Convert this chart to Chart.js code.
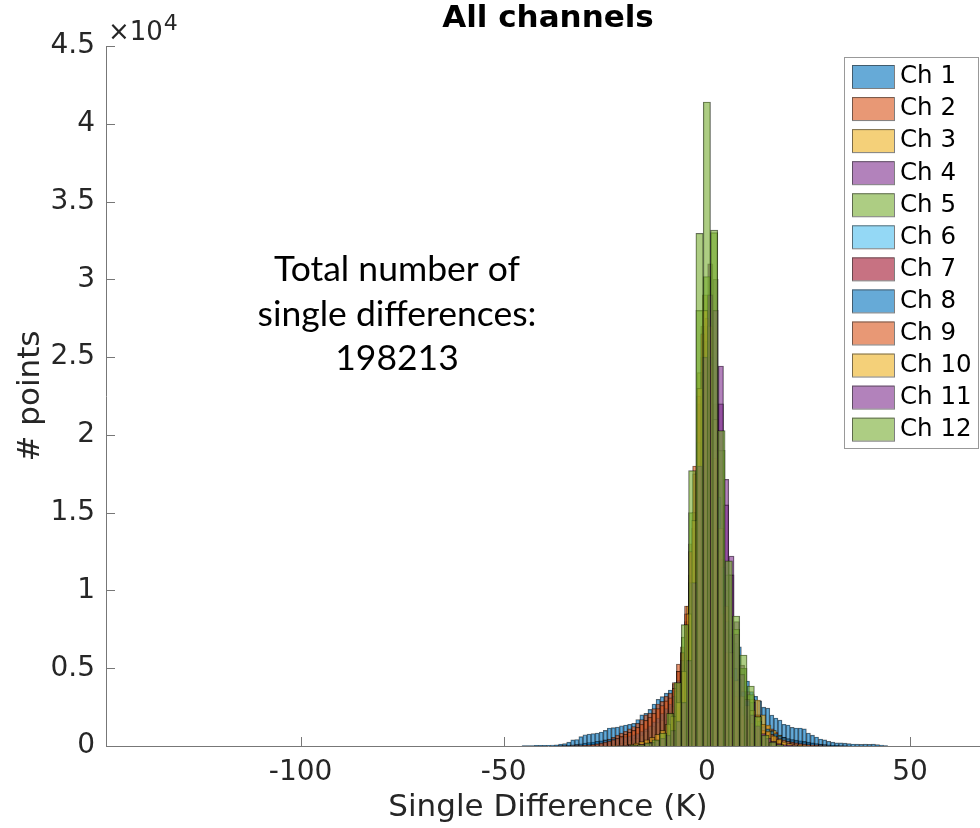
<!DOCTYPE html>
<html>
<head>
<meta charset="utf-8">
<title>All channels</title>
<script src="https://cdn.jsdelivr.net/npm/chart.js@4.4.1/dist/chart.umd.min.js"></script>
<style>
  html, body { margin: 0; padding: 0; background: #fff; overflow: hidden; }
  #wrap { width: 1000px; height: 828px; }
</style>
</head>
<body>
<div id="wrap"><canvas id="myChartHist" width="1000" height="828"></canvas></div>
<script>
// bin centres (K), one list per bin width used by the channels
const binsFine = Array.from({ length: 91 }, (_, i) => -45 + i);                                   // 1.0 K
const binsMid = Array.from({ length: 41 }, (_, i) => Math.round((-26.45 + 1.3 * i) * 100) / 100);  // 1.3 K
const binsWide = Array.from({ length: 21 }, (_, i) => Math.round((-18 + 1.8 * i) * 100) / 100);    // 1.8 K

// counts per bin for each channel
const ch1 = [
  20, 30, 30, 40, 40, 50, 50, 60, 80, 130,
  150, 250, 390, 420, 600, 720, 770, 800, 830, 900,
  1000, 1160, 1180, 1220, 1300, 1350, 1400, 1460, 1700, 2000,
  2100, 2350, 2700, 3000, 3170, 3400, 3600, 4000, 4800, 6000,
  8000, 11000, 15000, 20000, 25000, 27000, 26000, 22000, 17000, 12000,
  9000, 7200, 6600, 6380, 5000, 4180, 3500, 3200, 2900, 2500,
  2440, 1990, 1800, 1670, 1400, 1350, 1200, 1160, 1160, 1100,
  830, 700, 580, 450, 390, 300, 250, 200, 200, 180,
  150, 130, 120, 100, 120, 100, 120, 90, 60, 30,
  0];
const ch2 = [
  0, 0, 0, 0, 0, 0, 0, 0, 0, 10,
  20, 30, 40, 50, 70, 80, 100, 150, 200, 300,
  390, 450, 550, 700, 830, 950, 1100, 1250, 1460, 1700,
  2000, 2120, 2400, 2700, 2870, 3200, 3400, 4070, 5270, 6380,
  9000, 13000, 18000, 23000, 27000, 28000, 25000, 19000, 13000, 9000,
  6500, 4800, 3500, 2800, 2300, 2000, 1700, 1500, 1400, 1350,
  1300, 1100, 900, 700, 550, 450, 400, 330, 280, 230,
  200, 160, 130, 100, 80, 50, 30, 20, 10, 0,
  0, 0, 0, 0, 0, 0, 0, 0, 0, 0,
  0];
const ch3 = [
  10, 20, 50, 90, 150, 250, 350, 500, 700, 950,
  1280, 1500, 1670, 2200, 2530, 3400, 5500, 9000, 15000, 24000,
  29000, 28000, 22000, 15000, 10000, 7000, 5000, 3800, 3200, 3000,
  2960, 2000, 1350, 1000, 700, 450, 300, 180, 100, 50,
  0];
const ch4 = [
  0, 0, 0, 10, 20, 40, 70, 110, 160, 220,
  300, 450, 650, 900, 1300, 2000, 3500, 6500, 12000, 20000,
  27000, 31000, 30000, 24430, 17150, 12210, 8000, 5200, 3500, 2800,
  1900, 1200, 700, 400, 220, 110, 50, 20, 10, 0,
  0];
const ch5 = [
  30, 60, 150, 350, 700, 1700, 3500, 7000, 15000, 28000,
  30170, 33000, 19000, 11000, 7500, 5000, 3300, 1600, 600, 200,
  60];
const ch6 = [
  0, 0, 0, 0, 0, 0, 0, 0, 0, 0,
  100, 150, 250, 400, 700, 1200, 2400, 5000, 10000, 18000,
  24000, 22000, 15000, 9000, 5000, 2800, 1600, 900, 500, 300,
  180, 100, 60, 30, 10, 0, 0, 0, 0, 0,
  0];
const ch7 = [
  0, 0, 0, 0, 10, 20, 40, 70, 110, 150,
  200, 300, 600, 1000, 1500, 2500, 4500, 8000, 14000, 22000,
  26000, 25000, 19000, 12000, 7500, 5000, 3500, 2500, 1900, 1300,
  800, 450, 250, 120, 60, 30, 10, 0, 0, 0,
  0];
const ch8 = [
  0, 0, 0, 0, 0, 0, 0, 0, 10, 20,
  30, 50, 70, 100, 140, 180, 220, 260, 300, 340,
  380, 420, 460, 500, 550, 600, 650, 720, 800, 950,
  1100, 1300, 1550, 1800, 2100, 2400, 2700, 3200, 4200, 5500,
  7800, 10500, 14500, 19500, 24000, 26000, 25000, 21000, 16000, 11500,
  8000, 6000, 5000, 4300, 3500, 2900, 2300, 1900, 1600, 1300,
  1100, 950, 800, 650, 550, 480, 420, 380, 340, 300,
  250, 200, 160, 120, 90, 70, 50, 40, 30, 20,
  10, 0, 0, 0, 0, 0, 0, 0, 0, 0,
  0];
const ch9 = [
  0, 0, 0, 0, 0, 0, 0, 0, 0, 0,
  0, 0, 10, 20, 30, 40, 60, 90, 130, 180,
  250, 320, 400, 500, 620, 750, 880, 1000, 1200, 1400,
  1650, 1850, 2100, 2400, 2600, 2900, 3100, 3700, 4800, 6000,
  8500, 12500, 17500, 22500, 26500, 27500, 24500, 18500, 12500, 8500,
  6000, 4400, 3200, 2500, 2000, 1700, 1450, 1250, 1100, 1000,
  900, 750, 600, 480, 380, 300, 250, 200, 160, 120,
  90, 60, 40, 20, 10, 0, 0, 0, 0, 0,
  0, 0, 0, 0, 0, 0, 0, 0, 0, 0,
  0];
const ch10 = [
  0, 0, 0, 10, 30, 60, 110, 180, 280, 400,
  550, 750, 1000, 1400, 1900, 2800, 4800, 8500, 14500, 23000,
  28000, 27000, 21000, 14000, 9000, 6000, 4200, 3200, 2600, 2300,
  2000, 1400, 950, 650, 420, 260, 150, 80, 40, 10,
  0];
const ch11 = [
  0, 0, 0, 0, 10, 20, 40, 70, 110, 160,
  230, 350, 500, 700, 1000, 1600, 2800, 5500, 10500, 18000,
  25000, 29000, 28000, 22000, 15500, 11000, 7200, 4600, 3000, 2000,
  1300, 800, 500, 300, 160, 80, 40, 20, 0, 0,
  0];
const ch12 = [
  40, 80, 200, 400, 830, 2100, 4070, 7800, 17700, 32960,
  41400, 33170, 20270, 11900, 8360, 5850, 3860, 1890, 700, 250,
  90];

const channelNames = ['Ch 1', 'Ch 2', 'Ch 3', 'Ch 4', 'Ch 5', 'Ch 6', 'Ch 7', 'Ch 8', 'Ch 9', 'Ch 10', 'Ch 11', 'Ch 12'];
const channelCounts = [ch1, ch2, ch3, ch4, ch5, ch6, ch7, ch8, ch9, ch10, ch11, ch12];
const channelBins = [binsFine, binsFine, binsMid, binsMid, binsWide, binsMid, binsMid, binsFine, binsFine, binsMid, binsMid, binsWide];
const totalDifferences = 198213;

// axis limits and tick labels
const xLimits = [-147.9, 69.7];
const yLimits = [0, 45000];
const xTicks = [-100, -50, 0, 50];
const yTicks = [0, 5000, 10000, 15000, 20000, 25000, 30000, 35000, 40000, 45000];

// MATLAB default colour order
const faceColors = ['0,114,189', '217,83,25', '237,177,32', '126,47,142', '119,172,48', '77,190,238', '162,20,47'];
const axisGray = '#262626';
const edgeColor = 'rgba(0,0,0,0.62)';

Chart.defaults.font.family = '"DejaVu Sans", sans-serif';
Chart.defaults.color = axisGray;

// each bin width gets its own (hidden) x axis so the bars keep their width
function axisFor(bins) {
  if (bins === binsFine) return 'x';
  if (bins === binsMid) return 'xMid';
  return 'xWide';
}

// setup data block
let gdata = {
  datasets: channelNames.map((name, i) => ({
    label: name,
    data: channelCounts[i].map((c, j) => ({ x: channelBins[i][j], y: c })),
    xAxisID: axisFor(channelBins[i]),
    backgroundColor: 'rgba(' + faceColors[i % faceColors.length] + ',0.6)',
    borderColor: edgeColor,
    borderWidth: 0.7,
    grouped: false,
    barPercentage: 1,
    categoryPercentage: 1,
    order: channelNames.length - i,
  })),
};

const hiddenX = {
  type: 'linear',
  display: false,
  min: xLimits[0],
  max: xLimits[1],
  offset: false,
  grid: { offset: false },
};

// tick marks inside the axes, drawn under the bars
const tickMarks = {
  id: 'tickMarks',
  beforeDatasetsDraw(chart) {
    const { ctx, chartArea, scales } = chart;
    ctx.save();
    ctx.strokeStyle = '#777';
    ctx.lineWidth = 1;
    ctx.beginPath();
    xTicks.forEach(v => {
      const px = Math.round(scales.x.getPixelForValue(v)) + 0.5;
      ctx.moveTo(px, chartArea.bottom);
      ctx.lineTo(px, chartArea.bottom - 9);
    });
    yTicks.forEach(v => {
      const py = Math.round(scales.y.getPixelForValue(v)) + 0.5;
      ctx.moveTo(chartArea.left, py);
      ctx.lineTo(chartArea.left + 9, py);
    });
    ctx.stroke();
    ctx.restore();
  },
};

// title, exponent label, note and legend box
const overlay = {
  id: 'overlay',
  afterDraw(chart) {
    const { ctx, chartArea } = chart;
    const cx = (chartArea.left + chartArea.right) / 2;
    ctx.save();

    ctx.fillStyle = '#000';
    ctx.font = 'bold 31px "DejaVu Sans"';
    ctx.textAlign = 'center';
    ctx.textBaseline = 'middle';
    ctx.fillText('All channels', cx, 19);

    ctx.fillStyle = axisGray;
    ctx.textAlign = 'left';
    ctx.textBaseline = 'alphabetic';
    ctx.font = '26px "DejaVu Sans"';
    ctx.fillText('\u00d710', chartArea.left + 2, 40);
    const w = ctx.measureText('\u00d710').width;
    ctx.font = '22px "DejaVu Sans"';
    ctx.fillText('4', chartArea.left + 3 + w, 30);

    ctx.fillStyle = '#000';
    ctx.textAlign = 'center';
    ctx.textBaseline = 'middle';
    ctx.font = '35.5px Lato';
    ctx.fillText('Total number of', 397, 270);
    ctx.fillText('single differences:', 397, 315);
    ctx.fillText(String(totalDifferences), 397, 359);

    // legend
    const lx = chartArea.right - 146, ly = 57, lw = 134, lh = 391;
    ctx.fillStyle = '#fff';
    ctx.fillRect(lx, ly, lw, lh);
    ctx.strokeStyle = '#999';
    ctx.lineWidth = 1;
    ctx.strokeRect(lx + 0.5, ly + 0.5, lw, lh);
    ctx.font = '24.5px "DejaVu Sans"';
    ctx.textAlign = 'left';
    chart.data.datasets.forEach((ds, i) => {
      const sy = ly + 8 + i * 32.06;
      ctx.fillStyle = ds.backgroundColor;
      ctx.fillRect(lx + 8, sy, 42, 23);
      ctx.strokeStyle = 'rgba(40,40,40,0.6)';
      ctx.strokeRect(lx + 8.5, sy + 0.5, 42, 23);
      ctx.fillStyle = '#000';
      ctx.fillText(ds.label, lx + 56, sy + 12);
    });
    ctx.restore();
  },
};

// config block
let config = {
  type: 'bar',
  data: gdata,
  options: {
    responsive: false,
    animation: false,
    layout: { padding: { top: 46, right: 10, left: 0, bottom: 0 } },
    plugins: {
      legend: { display: false },
      title: { display: false },
      tooltip: { enabled: false },
    },
    scales: {
      x: {
        type: 'linear',
        position: 'bottom',
        min: xLimits[0],
        max: xLimits[1],
        offset: false,
        grid: { display: false, drawTicks: false, offset: false },
        border: { display: true, color: '#777', width: 1 },
        ticks: { color: axisGray, font: { size: 28 }, padding: 10, maxRotation: 0 },
        afterBuildTicks: scale => { scale.ticks = xTicks.map(v => ({ value: v })); },
        afterFit: scale => { scale.height = 82; },
        title: {
          display: true,
          text: 'Single Difference (K)',
          color: axisGray,
          font: { size: 31 },
          padding: { top: 0, bottom: 1 },
        },
      },
      xMid: hiddenX,
      xWide: Object.assign({}, hiddenX),
      y: {
        type: 'linear',
        min: yLimits[0],
        max: yLimits[1],
        grid: { display: false, drawTicks: false },
        border: { display: true, color: '#777', width: 1 },
        ticks: {
          color: axisGray,
          font: { size: 28 },
          padding: 11,
          callback: v => String(v / 1e4),
        },
        afterBuildTicks: scale => { scale.ticks = yTicks.map(v => ({ value: v })); },
        afterFit: scale => { scale.width = 106; },
        title: {
          display: true,
          text: '# points',
          color: axisGray,
          font: { size: 31 },
          padding: { top: 12, bottom: 0 },
        },
      },
    },
  },
  plugins: [tickMarks, overlay],
};

// render block
let myChart = new Chart(document.getElementById('myChartHist'), config);
</script>
</body>
</html>
